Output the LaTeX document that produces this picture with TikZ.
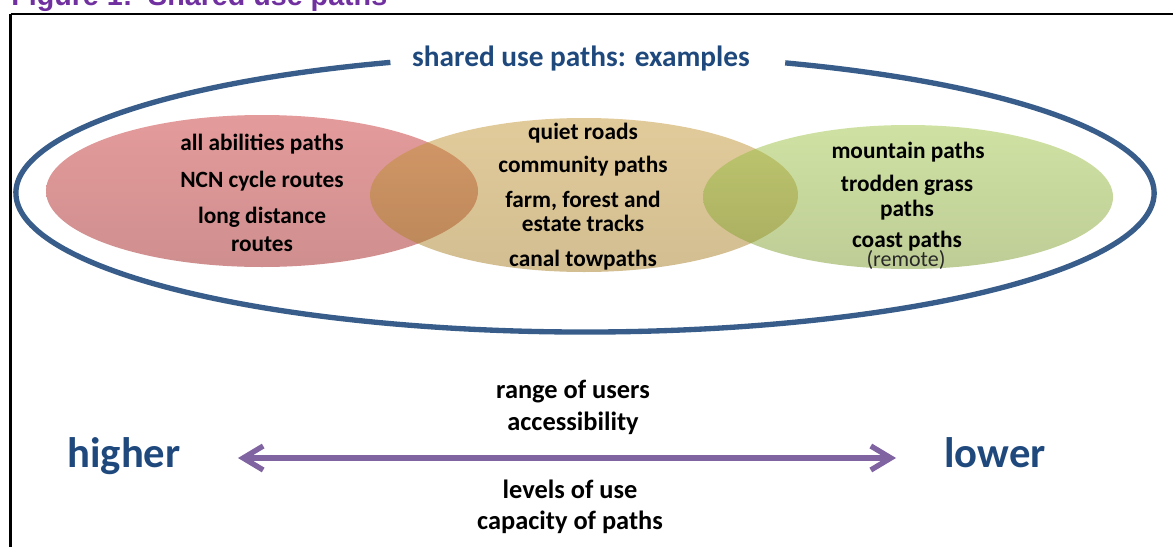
\documentclass[tikz,border=0pt]{standalone}
\usepackage{fontspec}
\setmainfont{Carlito}
\newfontfamily\arialfont{Liberation Sans}
\usetikzlibrary{arrows.meta}
\definecolor{titleblue}{RGB}{31,73,125}
\definecolor{ringblue}{RGB}{56,93,138}
\definecolor{figpurple}{RGB}{112,48,160}
\definecolor{arrowpurple}{RGB}{128,100,162}
\definecolor{redtop}{RGB}{201,55,55}
\definecolor{redbot}{RGB}{160,30,30}
\definecolor{tantop}{RGB}{197,151,55}
\definecolor{tanbot}{RGB}{165,125,35}
\definecolor{greentop}{RGB}{159,197,71}
\definecolor{greenbot}{RGB}{125,155,45}
\definecolor{remotegray}{RGB}{40,40,40}
\tikzset{
  item/.style={font=\bfseries\fontsize{17.5}{20}\selectfont, text=black, inner sep=0pt, text height=0.7em, text depth=0.2em},
  scaletext/.style={font=\bfseries\fontsize{19.8}{23}\selectfont, text=black, inner sep=0pt, text height=0.7em, text depth=0.2em},
  remark/.style={font=\fontsize{16.5}{19}\selectfont, text=remotegray, inner sep=0pt, text height=0.7em, text depth=0.2em},
  big/.style={font=\bfseries\fontsize{32}{38}\selectfont, text=titleblue, inner sep=0pt, text height=0.7em, text depth=0.2em},
  heading/.style={font=\bfseries\fontsize{22}{26}\selectfont, text=titleblue, inner sep=0pt, text height=0.7em, text depth=0.2em},
  blob/.style={fill opacity=0.5},
}
\begin{document}
\begin{tikzpicture}[x=0.75pt,y=-0.75pt]
\useasboundingbox (0,0) rectangle (1173,546);
\clip (0,0) rectangle (1173,546);
% figure caption (cut at top)
\node[anchor=base west, inner sep=0pt, text=figpurple, font=\arialfont\bfseries\fontsize{21.5}{24}\selectfont] (caption) at (11,6) {Figure 1:\ \ Shared use paths};
% frame
\draw[line width=2pt, black] (10.5,14) -- (1190,14);
\draw[line width=2pt, black] (10.5,14) -- (10.5,560);
% coloured ellipses
\shade[blob, top color=redtop, bottom color=redbot] (262,191) ellipse [x radius=216, y radius=76];
\shade[blob, top color=tantop, bottom color=tanbot] (584,195) ellipse [x radius=214, y radius=77];
\shade[blob, top color=greentop, bottom color=greenbot] (908,197) ellipse [x radius=205, y radius=72];
% outer ring with gap for heading
\draw[ringblue, line width=4pt] (585,193) ++(290.6:569 and 139) arc[start angle=290.6, end angle=610, x radius=569, y radius=139];
\node[heading] (head) at (581,63) {shared use paths: examples};
% red texts
\node[item] (r1) at (262,147) {all abilities paths};
\node[item] (r2) at (262,184) {NCN cycle routes};
\node[item] (r3) at (262,220) {long distance};
\node[item] (r4) at (262,248) {routes};
% tan texts
\node[item] (t1) at (583,136) {quiet roads};
\node[item] (t2) at (583,169) {community paths};
\node[item] (t3) at (583,204) {farm, forest and};
\node[item] (t4) at (583,228) {estate tracks};
\node[item] (t5) at (583,263) {canal towpaths};
% green texts
\node[item] (g1) at (908,155) {mountain paths};
\node[item] (g2) at (907,188) {trodden grass};
\node[item] (g3) at (907,213) {paths};
\node[item] (g4) at (907,244) {coast paths};
\node[remark] (g5) at (906,263) {(remote)};
% scale
\node[scaletext] (u1) at (573,395) {range of users};
\node[scaletext] (u2) at (573,427) {accessibility};
\node[scaletext] (u3) at (570,495) {levels of use};
\node[scaletext] (u4) at (570,526) {capacity of paths};
\node[big] (hi) at (124,464) {higher};
\node[big] (lo) at (995,464) {lower};
\coordinate (aL) at (238,458);
\coordinate (aR) at (896,458);
\draw[arrowpurple, line width=4pt, {Straight Barb[length=15pt,width=18pt]}-{Straight Barb[length=15pt,width=18pt]}] (aL) -- (aR);
\end{tikzpicture}
\end{document}
